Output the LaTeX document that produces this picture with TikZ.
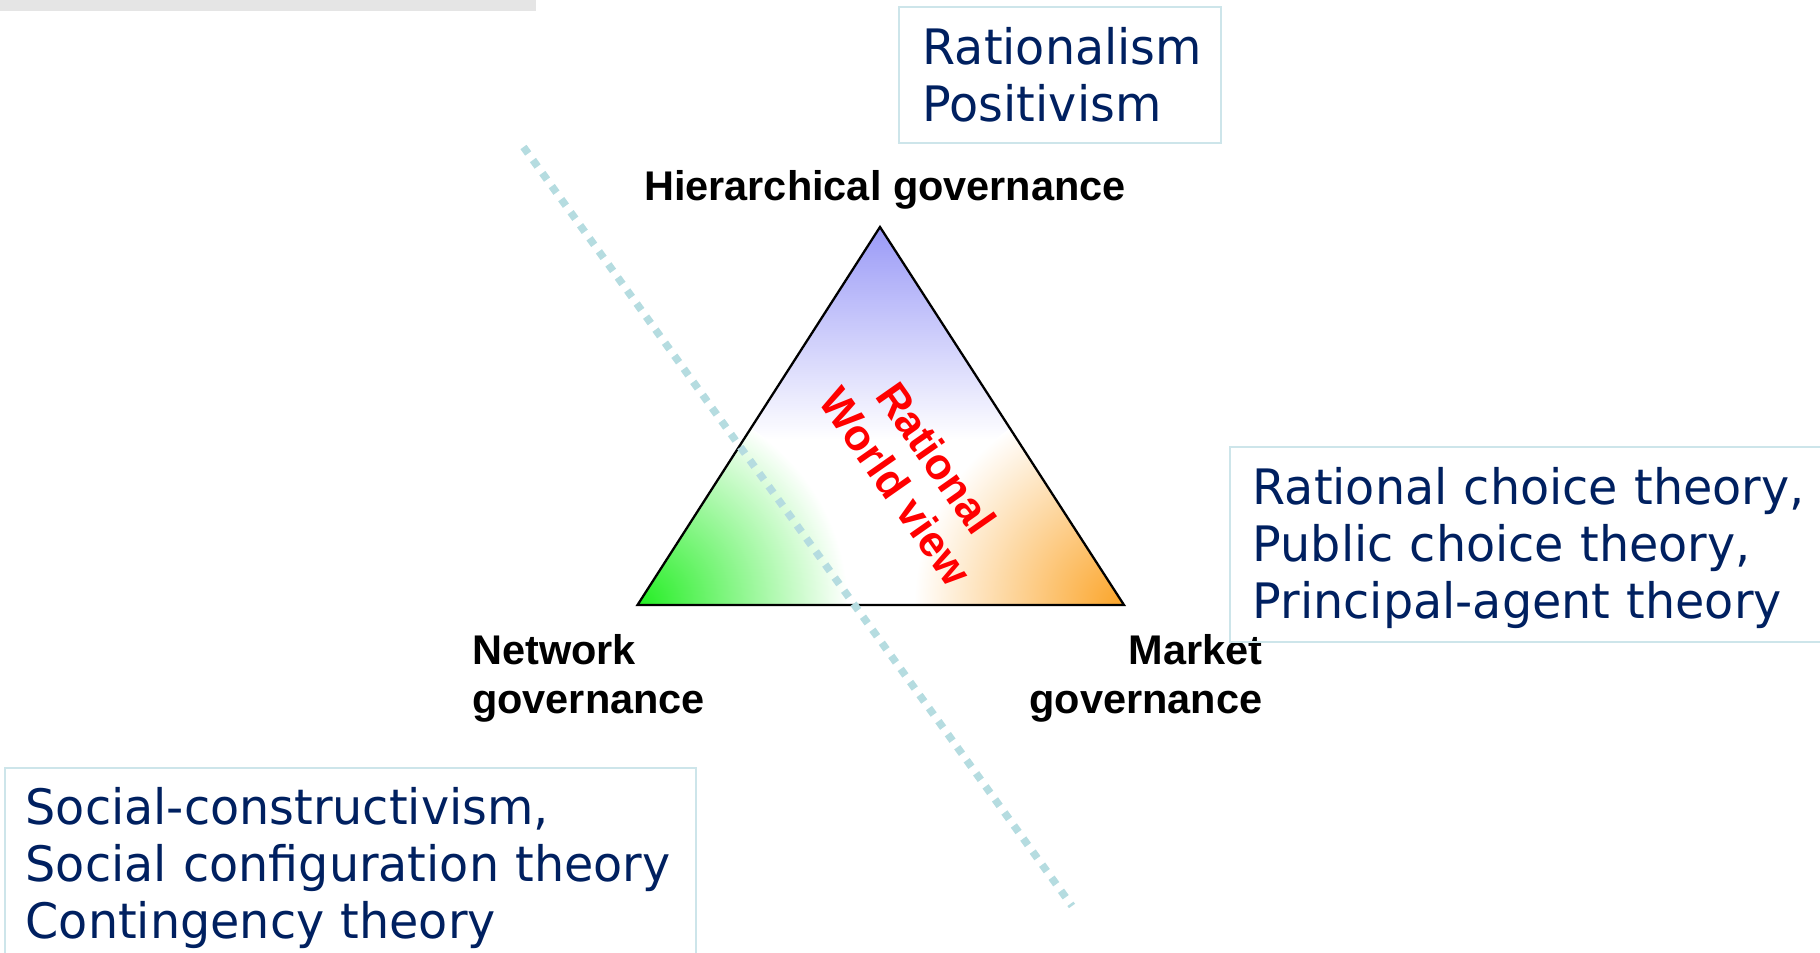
\documentclass[tikz,border=0pt]{standalone}
\usepackage{fontspec}
\newfontfamily\theoryfont[FakeStretch=0.975]{DejaVu Sans}
\newfontfamily\govfont{Liberation Sans}

\definecolor{navy}{HTML}{002060}
\definecolor{framecyan}{HTML}{CDE5EA}
\definecolor{dotteal}{HTML}{B5DCE0}
\definecolor{bargray}{HTML}{E5E5E5}
\definecolor{apexblue}{HTML}{9A9AF7}
\definecolor{cornergreen}{HTML}{22EE22}
\definecolor{cornerorange}{HTML}{FBA428}

\tikzset{
	theory/.style={anchor=base west,text width=7cm,align=left,inner sep=0pt,
		text=navy,font=\theoryfont\fontsize{13.9}{16.2}\selectfont},
	theorybox/.style={draw=framecyan,line width=0.4pt},
	gov/.style={inner sep=0pt,font=\govfont\bfseries\fontsize{11.8}{13.7}\selectfont},
	dotline/.style={draw=dotteal,line width=0.075cm,dash pattern=on 0.08cm off 0.081cm},
}

\begin{document}
\begin{tikzpicture}
	\useasboundingbox (0,0) rectangle (18.2,-9.53);
	\fill [bargray] (0,0) rectangle (5.36,-0.11);

	\coordinate (H) at (8.80,-2.27);
	\coordinate (N) at (6.375,-6.05);
	\coordinate (M) at (11.24,-6.05);

	\begin{scope}
		\clip (H) -- (N) -- (M) -- cycle;
		\shade [top color=apexblue,bottom color=white] (6.3,-2.27) rectangle (11.3,-4.40);
		\shade [inner color=cornergreen,outer color=white] (N) circle (2.1);
		\shade [inner color=cornerorange,outer color=white] (M) circle (2.1);
	\end{scope}
	\draw [line width=0.65pt] (H) -- (N) -- (M) -- cycle;

	\node [gov,anchor=base](hier) at (8.85,-2.01) {Hierarchical governance};
	\node [gov,anchor=base west,text width=4cm,align=left](net) at (4.715,-6.65) {Network\\governance};
	\node [gov,anchor=base east,text width=4cm,align=right](mkt) at (12.63,-6.65) {Market\\governance};

	\node [rotate=-55,align=center,text=red,inner sep=0pt,
		font=\govfont\bfseries\fontsize{12.4}{14.2}\selectfont](view) at (9.16,-4.72) {Rational\\World view};

	\draw [theorybox] (8.99,-0.07) rectangle (12.21,-1.43);
	\node [theory](rat) at (9.22,-0.65) {Rationalism\\Positivism};

	\draw [theorybox] (12.30,-4.47) rectangle (18.35,-6.42);
	\node [theory](choice) at (12.52,-5.05) {Rational choice theory,\\Public choice theory,\\Principal-agent theory};

	\draw [theorybox] (0.05,-7.68) rectangle (6.96,-9.70);
	\node [theory](social) at (0.25,-8.25) {Social-constructivism,\\Social configuration theory\\Contingency theory};

	\coordinate (d1) at (5.235,-1.47);
	\coordinate (d2) at (10.72,-9.06);
	\draw [dotline] (d1) -- (d2);
\end{tikzpicture}
\end{document}
